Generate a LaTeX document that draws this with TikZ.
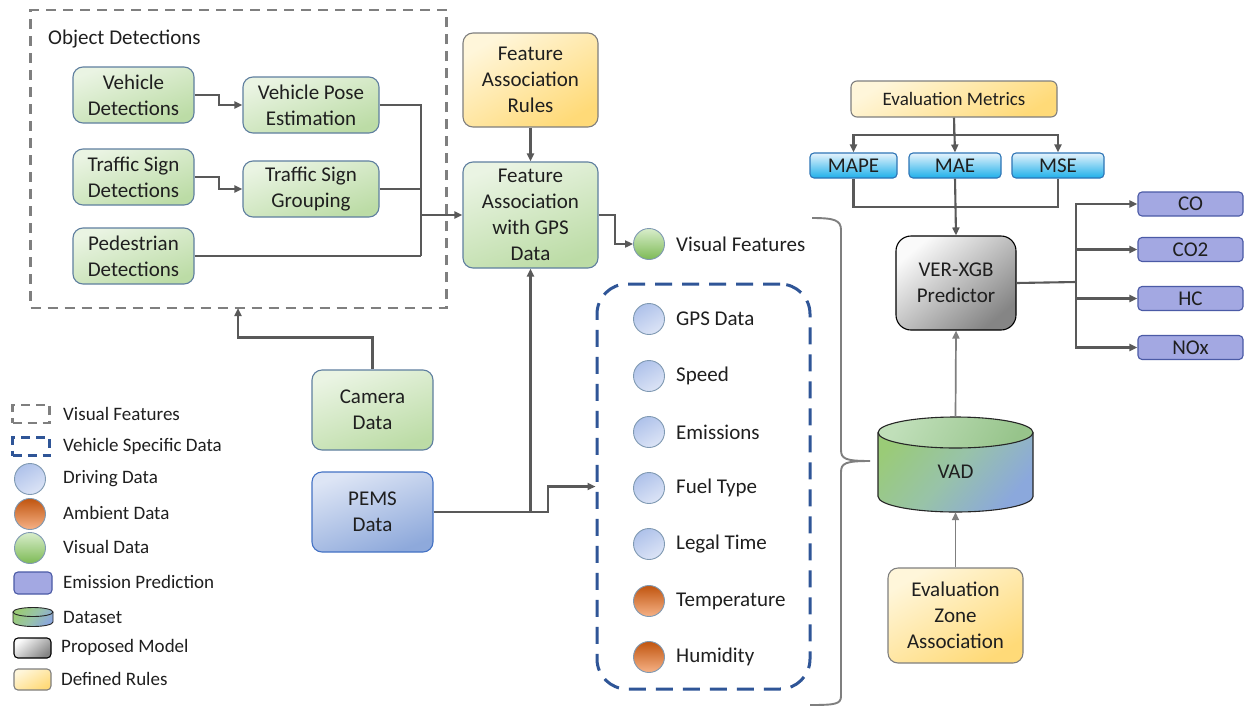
\documentclass[tikz,border=0pt]{standalone}
\usepackage{fontspec}
\setmainfont{Carlito}
\usetikzlibrary{arrows.meta,shapes.geometric}
\definecolor{linec}{HTML}{595959}
\definecolor{txt}{HTML}{1F1F1F}
\definecolor{bord}{HTML}{5F7F9F}
\definecolor{gA}{HTML}{EAF4E3}
\definecolor{gB}{HTML}{BCDCA6}
\definecolor{yA}{HTML}{FFF6DA}
\definecolor{yB}{HTML}{FFDA78}
\definecolor{bA}{HTML}{E6F3FC}
\definecolor{bB}{HTML}{1EB0EA}
\definecolor{bBord}{HTML}{2E75B6}
\definecolor{pA}{HTML}{DDE5F5}
\definecolor{pB}{HTML}{8EA9DB}
\definecolor{pBord}{HTML}{4472C4}
\definecolor{eFill}{HTML}{A3A8E2}
\definecolor{eBord}{HTML}{4B5AA6}
\definecolor{kA}{HTML}{FAFAFA}
\definecolor{kB}{HTML}{858585}
\definecolor{dgray}{HTML}{7F7F7F}
\definecolor{dblue}{HTML}{2F5597}
\definecolor{cbA}{HTML}{AFC2EA}
\definecolor{cbB}{HTML}{DCE4F6}
\definecolor{coA}{HTML}{C0550F}
\definecolor{coB}{HTML}{F6B286}
\definecolor{cgA}{HTML}{D8EDCB}
\definecolor{cgB}{HTML}{7DBA55}
\definecolor{vGreen}{HTML}{9ACB77}
\definecolor{vBlue}{HTML}{8BA8DC}
\definecolor{vMid}{HTML}{98C3A8}
\newcommand{\fsmain}{\fontsize{21}{26}\selectfont}
\newcommand{\fsleg}{\fontsize{19}{22}\selectfont}
\tikzset{
  x=1pt, y=-1pt,
  every node/.style={text=txt},
  box/.style={rounded corners=10pt, draw=bord, line width=1.1pt, align=center, font=\fsmain, inner sep=2pt},
  gbox/.style={box, top color=gA, bottom color=gB, shading angle=20},
  ybox/.style={box, draw=dgray, top color=yA, bottom color=yB, shading angle=30},
  pbox/.style={box, draw=pBord, top color=pA, bottom color=pB, shading angle=20},
  kbox/.style={box, draw=black, rounded corners=15pt, top color=kA, bottom color=kB, shading angle=40},
  mbox/.style={box, rounded corners=4pt, draw=bBord, top color=bA, bottom color=bB, minimum height=25pt},
  ebox/.style={box, rounded corners=4pt, draw=eBord, fill=eFill, minimum width=105pt, minimum height=24pt},
  cblue/.style={circle, draw=bord!80, line width=0.9pt, minimum size=31pt, inner sep=0pt, top color=cbA, bottom color=cbB, shading angle=30},
  corange/.style={circle, draw=bord!80, line width=0.9pt, minimum size=31pt, inner sep=0pt, top color=coA, bottom color=coB},
  cgreen/.style={circle, draw=bord!80, line width=0.9pt, minimum size=31pt, inner sep=0pt, top color=cgA, bottom color=cgB},
  lab/.style={anchor=west, font=\fsmain, inner sep=0pt},
  leg/.style={anchor=west, font=\fsleg, inner sep=0pt},
  conn/.style={draw=linec, line width=2.1pt},
  arr/.style={conn, -{Triangle[length=8pt,width=7pt]}},
}
\begin{document}
\begin{tikzpicture}
\fill[white] (0,0) rectangle (1246,707);
\useasboundingbox (0,0) rectangle (1246,707);

% ---------- Object detections group ----------
\node[draw=dgray, line width=2.8pt, dash pattern=on 10pt off 7pt, minimum width=416pt, minimum height=298pt, inner sep=0pt] (obox) at (238.5,159) {};
\node[anchor=west, font=\fsmain, inner sep=0pt] (otitle) at (48,39) {Object Detections};

\node[gbox, minimum width=121pt, minimum height=56pt] (vd) at (133.5,95) {Vehicle\\Detections};
\node[gbox, minimum width=136pt, minimum height=56pt] (vpe) at (311,105) {Vehicle Pose\\Estimation};
\node[gbox, minimum width=121pt, minimum height=56pt] (tsd) at (133.5,177) {Traffic Sign\\Detections};
\node[gbox, minimum width=136pt, minimum height=56pt] (tsg) at (311,189) {Traffic Sign\\Grouping};
\node[gbox, minimum width=121pt, minimum height=56pt] (pd) at (133.5,256) {Pedestrian\\Detections};

\draw[arr] (vd.east) -- ++(24,0) |- (vpe.west);
\draw[arr] (tsd.east) -- ++(24,0) |- (tsg.west);
\coordinate (mj) at (421,256);
\draw[conn] (vpe.east) -| (mj);
\draw[conn] (tsg.east) -- (tsg.east -| mj);
\draw[conn] (pd.east) -- (mj);

% ---------- Feature association ----------
\node[ybox, minimum width=135pt, minimum height=94pt] (far) at (530.5,80) {Feature\\Association\\Rules};
\node[gbox, minimum width=135pt, minimum height=106pt] (assoc) at (530.5,215) {Feature\\Association\\with GPS\\Data};
\draw[arr] (far.south) -- (assoc.north);
\draw[arr] (assoc.west -| mj) -- (assoc.west);

\node[cgreen] (vfc) at (649,244) {};
\node[lab] (vft) at (676,244) {Visual Features};
\draw[arr] (assoc.east) -- ++(16,0) |- (vfc.west);

% ---------- Camera & PEMS ----------
\node[gbox, minimum width=121pt, minimum height=80pt] (cam) at (372.5,410) {Camera\\Data};
\node[pbox, minimum width=121pt, minimum height=80pt] (pems) at (372.5,512) {PEMS\\Data};
\coordinate (cb) at (238,308);
\draw[arr] (cam.north) -- ++(0,-32) -| (cb);

% ---------- Vehicle specific data ----------
\node[draw=dblue, line width=3pt, dash pattern=on 17pt off 10pt, rounded corners=30pt, minimum width=213pt, minimum height=405pt, inner sep=0pt] (vsd) at (703.5,486.5) {};
\draw[arr] (pems.east) -| (assoc.south);
\draw[arr] (pems.east) -- ++(114,0) |- (vsd.west);

\node[cblue] (c1) at (649,319) {};
\node[lab] (t1) at (676,319) {GPS Data};
\node[cblue] (c2) at (649,376) {};
\node[lab] (t2) at (676,376) {Speed};
\node[cblue] (c3) at (649,432) {};
\node[lab] (t3) at (676,432) {Emissions};
\node[cblue] (c4) at (649,488) {};
\node[lab] (t4) at (676,488) {Fuel Type};
\node[cblue] (c5) at (649,544) {};
\node[lab] (t5) at (676,544) {Legal Time};
\node[corange] (c6) at (649,601) {};
\node[lab] (t6) at (676,601) {Temperature};
\node[corange] (c7) at (649,657) {};
\node[lab] (t7) at (676,657) {Humidity};

% ---------- Brace ----------
\draw[draw=dgray, line width=1.9pt] (812,218) .. controls (834,218) and (841,220) .. (841,230) -- (841,450)
  .. controls (841,459) and (846,461) .. (870,461)
  .. controls (846,461) and (841,463) .. (841,472) -- (841,696)
  .. controls (841,704) and (836,705) .. (810,705);

% ---------- VAD cylinder ----------
\shade[top color=vGreen, bottom color=vBlue, middle color=vMid, shading angle=50]
  (878,432.5) -- (878,496.5) arc[start angle=180, end angle=360, x radius=77.5pt, y radius=15.5pt]
  -- (1033,432.5) arc[start angle=0, end angle=180, x radius=77.5pt, y radius=15.5pt] -- cycle;
\shade[top color=vGreen!50!bA, bottom color=vGreen!80!vBlue, shading angle=60]
  (955.5,432.5) ellipse[x radius=77.5pt, y radius=15.5pt];
\draw[black!85, line width=1.1pt]
  (878,432.5) -- (878,496.5) arc[start angle=180, end angle=360, x radius=77.5pt, y radius=15.5pt]
  -- (1033,432.5);
\draw[black!85, line width=1.1pt] (955.5,432.5) ellipse[x radius=77.5pt, y radius=15.5pt];
\node[minimum width=155pt, minimum height=95pt, inner sep=0pt] (vad) at (955.5,464.5) {};
\node[font=\fsmain] (vadt) at (955.5,472) {VAD};

\node[ybox, minimum width=135pt, minimum height=95pt] (eza) at (955.5,615.5) {Evaluation\\Zone\\Association};
\draw[arr, draw=dgray, line width=1.7pt] (eza.north) -- (vad.south);

% ---------- Predictor & metrics ----------
\node[kbox, minimum width=120pt, minimum height=94pt] (ver) at (956,283) {VER-XGB\\Predictor};
\draw[arr, draw=dgray, line width=1.7pt] (vad.north) -- (ver.south);

\node[ybox, rounded corners=6pt, minimum width=206pt, minimum height=36pt, font=\fontsize{19}{22}\selectfont] (em) at (954,99) {Evaluation Metrics};
\node[mbox, minimum width=87pt] (mape) at (853.5,165.5) {MAPE};
\node[mbox, minimum width=92pt] (mae) at (955,165.5) {MAE};
\node[mbox, minimum width=92pt] (mse) at (1058,165.5) {MSE};
\draw[arr] (em.south) -- ++(0,17) -| (mape.north);
\draw[arr] (em.south) -- ++(0,17) -| (mse.north);
\draw[arr] (em.south) -- (mae.north);
\draw[conn] (mape.south) -- ++(0,28) -| (mse.south);
\draw[arr] (mae.south) -- (ver.north);

\node[ebox] (co) at (1190.5,204) {CO};
\node[ebox] (co2) at (1190.5,249.5) {CO2};
\node[ebox] (hc) at (1190.5,298.5) {HC};
\node[ebox] (nox) at (1190.5,347.5) {NOx};
\coordinate (oj) at (1076,282);
\draw[conn] (ver.east) -- (oj);
\draw[arr] (oj) |- (co.west);
\draw[arr] (oj) |- (co2.west);
\draw[arr] (oj) |- (hc.west);
\draw[arr] (oj) |- (nox.west);

% ---------- Legend ----------
\node[draw=dgray, line width=2.4pt, dash pattern=on 9pt off 6pt, minimum width=37pt, minimum height=18pt, inner sep=0pt] (lg1) at (31,414) {};
\node[leg] (lt1) at (63,414) {Visual Features};
\node[draw=dblue, line width=2.4pt, dash pattern=on 9pt off 6pt, minimum width=37pt, minimum height=18pt, inner sep=0pt] (lg2) at (31,446.5) {};
\node[leg] (lt2) at (63,446) {Vehicle Specific Data};
\node[cblue] (lg3) at (30,479) {};
\node[leg] (lt3) at (63,479) {Driving Data};
\node[corange] (lg4) at (30,514) {};
\node[leg] (lt4) at (63,513) {Ambient Data};
\node[cgreen] (lg5) at (30,548) {};
\node[leg] (lt5) at (63,547) {Visual Data};
\node[box, rounded corners=4pt, draw=eBord, fill=eFill, minimum width=38pt, minimum height=22pt] (lg6) at (33,583) {};
\node[leg] (lt6) at (63,582) {Emission Prediction};
\shade[top color=vGreen, bottom color=vBlue, middle color=vMid, shading angle=50]
  (13,612) -- (13,622) arc[start angle=180, end angle=360, x radius=20pt, y radius=4.5pt]
  -- (53,612) arc[start angle=0, end angle=180, x radius=20pt, y radius=4.5pt] -- cycle;
\draw[black!85, line width=0.9pt]
  (13,612) -- (13,622) arc[start angle=180, end angle=360, x radius=20pt, y radius=4.5pt] -- (53,612);
\draw[black!85, line width=0.9pt] (33,612) ellipse[x radius=20pt, y radius=4.5pt];
\node[minimum width=40pt, minimum height=20pt, inner sep=0pt] (lg7) at (33,617) {};
\node[leg] (lt7) at (63,617) {Dataset};
\node[box, draw=black, rounded corners=4pt, top color=kA, bottom color=kB, shading angle=40, minimum width=37pt, minimum height=20pt] (lg8) at (32.5,648) {};
\node[leg] (lt8) at (61,647) {Proposed Model};
\node[box, draw=dgray, rounded corners=4pt, top color=yA, bottom color=yB, shading angle=30, minimum width=37pt, minimum height=21pt] (lg9) at (32.5,679.5) {};
\node[leg] (lt9) at (61,679) {Defined Rules};
\end{tikzpicture}
\end{document}
